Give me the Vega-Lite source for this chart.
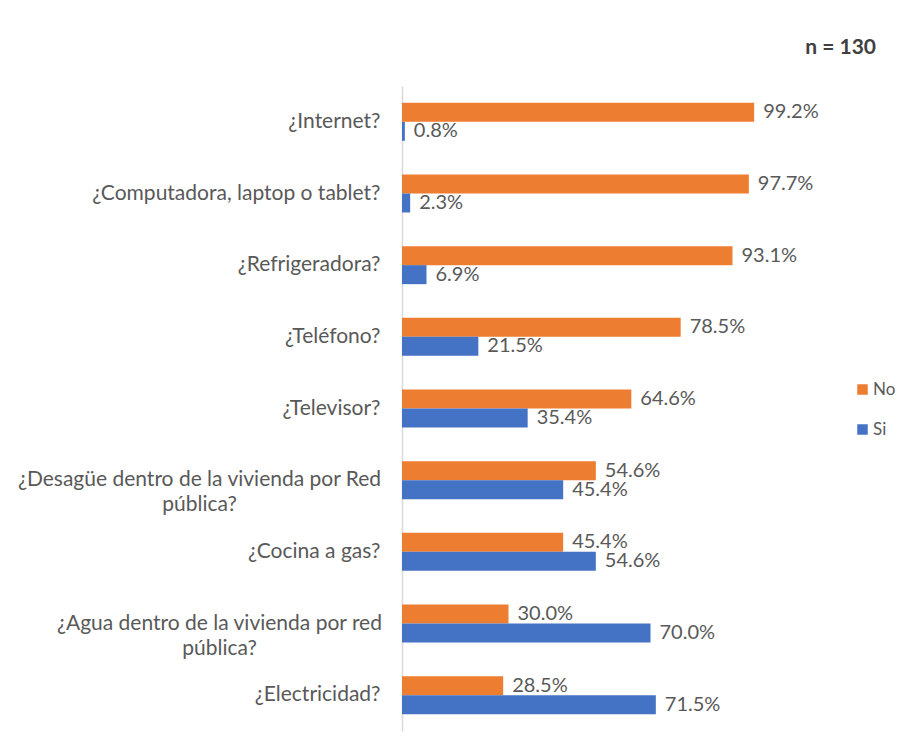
{
  "$schema": "https://vega.github.io/schema/vega-lite/v6.json",
  "width": 355,
  "height": 645,
  "autosize": "none",
  "padding": {"left": 402, "top": 86, "right": 147, "bottom": 22},
  "background": "white",
  "title": {"text": "n = 130", "anchor": "end", "frame": "group", "dx": 119, "offset": 28, "fontSize": 21, "fontWeight": "bold", "color": "#404040", "font": "Lato"},
  "data": {"values": [
    {"item": "¿Internet?", "serie": "No", "pct": 0.992},
    {"item": "¿Internet?", "serie": "Si", "pct": 0.008},
    {"item": "¿Computadora, laptop o tablet?", "serie": "No", "pct": 0.977},
    {"item": "¿Computadora, laptop o tablet?", "serie": "Si", "pct": 0.023},
    {"item": "¿Refrigeradora?", "serie": "No", "pct": 0.931},
    {"item": "¿Refrigeradora?", "serie": "Si", "pct": 0.069},
    {"item": "¿Teléfono?", "serie": "No", "pct": 0.785},
    {"item": "¿Teléfono?", "serie": "Si", "pct": 0.215},
    {"item": "¿Televisor?", "serie": "No", "pct": 0.646},
    {"item": "¿Televisor?", "serie": "Si", "pct": 0.354},
    {"item": "¿Desagüe dentro de la vivienda por Red|pública?", "serie": "No", "pct": 0.546},
    {"item": "¿Desagüe dentro de la vivienda por Red|pública?", "serie": "Si", "pct": 0.454},
    {"item": "¿Cocina a gas?", "serie": "No", "pct": 0.454},
    {"item": "¿Cocina a gas?", "serie": "Si", "pct": 0.546},
    {"item": "¿Agua dentro de la vivienda por red|pública?", "serie": "No", "pct": 0.300},
    {"item": "¿Agua dentro de la vivienda por red|pública?", "serie": "Si", "pct": 0.700},
    {"item": "¿Electricidad?", "serie": "No", "pct": 0.285},
    {"item": "¿Electricidad?", "serie": "Si", "pct": 0.715}
  ]},
  "encoding": {
    "y": {
      "field": "item", "type": "nominal", "sort": null,
      "scale": {"paddingInner": 0.47, "paddingOuter": 0.235},
      "axis": {
        "title": null,
        "domainColor": "#D9D9D9",
        "domainWidth": 1.5,
        "ticks": false,
        "tickSize": 0,
        "labelPadding": {"condition": [
          {"test": "indexof(datum.value, 'Desag') >= 0", "value": 203},
          {"test": "indexof(datum.value, 'Agua') >= 0", "value": 183}
        ], "value": 22},
        "labelAlign": {"condition": {"test": "indexof(datum.value, '|') >= 0", "value": "center"}, "value": "right"},
        "labelFontSize": 21,
        "labelColor": "#595959",
        "labelFont": "Lato",
        "labelLimit": 420,
        "labelLineHeight": 25,
        "labelExpr": "split(datum.value, '|')"
      }
    },
    "yOffset": {"field": "serie", "type": "nominal", "sort": ["No", "Si"], "scale": {"paddingInner": 0, "paddingOuter": 0}},
    "x": {"field": "pct", "type": "quantitative", "scale": {"domain": [0, 1]}, "axis": null}
  },
  "layer": [
    {
      "mark": {"type": "bar"},
      "encoding": {
        "color": {
          "field": "serie", "type": "nominal",
          "scale": {"domain": ["No", "Si"], "range": ["#ED7D31", "#4472C4"]},
          "legend": {
            "orient": "none", "legendX": 452, "legendY": 295, "title": null,
            "symbolType": "square", "symbolSize": 110, "symbolStrokeWidth": 0,
            "labelFontSize": 17, "labelColor": "#595959", "labelFont": "Lato",
            "rowPadding": 22, "labelOffset": 2
          }
        }
      }
    },
    {
      "mark": {"type": "text", "align": "left", "baseline": "middle", "dx": 9, "fontSize": 20, "font": "Lato", "color": "#595959"},
      "encoding": {"text": {"field": "pct", "type": "quantitative", "format": ".1%"}}
    }
  ],
  "config": {"view": {"stroke": null}}
}
